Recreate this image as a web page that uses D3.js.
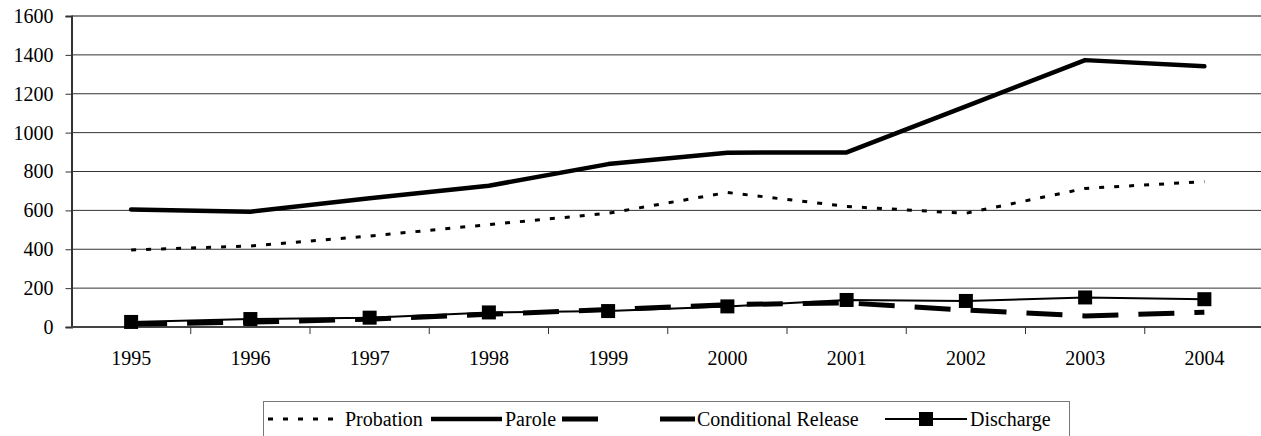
<!DOCTYPE html>
<html><head><meta charset="utf-8">
<script src="https://cdn.jsdelivr.net/npm/d3@7"></script>
<style>
html,body{margin:0;padding:0;background:#fff;}
</style></head>
<body><svg id="c" width="1261" height="436"></svg>
<script>
const years = ["1995","1996","1997","1998","1999","2000","2001","2002","2003","2004"];
const probation = [396, 417, 468, 527, 585, 692, 620, 585, 713, 748];
const parole = [605, 593, 662, 727, 838, 897, 898, 1135, 1373, 1341];
const conditionalRelease = [15, 25, 40, 65, 90, 115, 124, 87, 57, 76];
const discharge = [26, 41, 48, 75, 82, 106, 139, 134, 152, 143];
const yTicks = [0, 200, 400, 600, 800, 1000, 1200, 1400, 1600];
const seriesNames = ["Probation", "Parole", "Conditional Release", "Discharge"];

const FONT = "Liberation Serif";
const FS = 20;
const svg = d3.select("#c");
const L = 71.5, R = 1264, T = 16, B = 327;
const x = d3.scaleBand().domain(years).range([L, R]).padding(0);
const y = d3.scaleLinear().domain([0, 1600]).range([B, T]);
const cx = d => x(d) + x.bandwidth() / 2;

// gridlines
svg.append("g").selectAll("line").data(yTicks.filter(t => t > 0 && t < 1600)).join("line")
  .attr("x1", L).attr("x2", 1261).attr("y1", d => y(d)).attr("y2", d => y(d))
  .attr("stroke", "#333").attr("stroke-width", 1);
// top frame line
svg.append("line").attr("x1", L).attr("x2", 1261).attr("y1", y(1600)).attr("y2", y(1600))
  .attr("stroke", "#888").attr("stroke-width", 2);

// y axis
const yAxis = d3.axisLeft(y).tickValues(yTicks).tickSize(6).tickPadding(12).tickFormat(d3.format("d"));
const gy = svg.append("g").attr("transform", `translate(${L},0)`).call(yAxis);
gy.select(".domain").attr("stroke", "#333").attr("stroke-width", 2);
gy.selectAll(".tick line").attr("stroke", "#333");
gy.selectAll("text").attr("font-size", FS).attr("fill", "#000").style("font-family", FONT);

// x axis
const gx = svg.append("g").attr("transform", `translate(0,${B})`);
gx.append("line").attr("x1", L).attr("x2", 1261).attr("y1", 0).attr("y2", 0).attr("stroke", "#444").attr("stroke-width", 2);
gx.selectAll("line.tk").data(years.slice(1)).join("line").attr("class", "tk")
  .attr("x1", d => x(d)).attr("x2", d => x(d)).attr("y1", 0).attr("y2", 7).attr("stroke", "#333");
gx.selectAll("text").data(years).join("text")
  .attr("x", d => cx(d)).attr("y", 38).attr("text-anchor", "middle")
  .attr("font-size", FS).style("font-family", FONT).attr("fill", "#000").text(d => d);

const line = d3.line().x((d, i) => cx(years[i])).y(d => y(d));

svg.append("path").datum(probation).attr("d", line).attr("fill", "none")
  .attr("stroke", "#000").attr("stroke-width", 3).attr("stroke-dasharray", "5,10");
svg.append("path").datum(parole).attr("d", line).attr("fill", "none")
  .attr("stroke", "#000").attr("stroke-width", 4.5).attr("stroke-linecap", "round").attr("stroke-linejoin", "round");
svg.append("path").datum(conditionalRelease).attr("d", line).attr("fill", "none")
  .attr("stroke", "#000").attr("stroke-width", 5).attr("stroke-dasharray", "36,20");
svg.append("path").datum(discharge).attr("d", line).attr("fill", "none")
  .attr("stroke", "#000").attr("stroke-width", 2);
svg.append("g").selectAll("rect").data(discharge).join("rect")
  .attr("x", (d, i) => cx(years[i]) - 7).attr("y", d => y(d) - 7)
  .attr("width", 14).attr("height", 14).attr("fill", "#000");

// legend
const lg = svg.append("g");
lg.append("rect").attr("x", 263.5).attr("y", 401.5).attr("width", 806).attr("height", 40)
  .attr("fill", "#fff").attr("stroke", "#777").attr("stroke-width", 1);
const items = [
  {name: seriesNames[0], x0: 268, x1: 343, tx: 345, w: 3, dash: "5,10"},
  {name: seriesNames[1], x0: 431, x1: 502, tx: 505, w: 4.5, dash: null},
  {name: seriesNames[2], x0: 562, x1: 695, tx: 697, w: 5, dash: "36,62"},
  {name: seriesNames[3], x0: 885, x1: 967, tx: 970, w: 2, dash: null, marker: true}
];
const ly = 419;
items.forEach(it => {
  lg.append("line").attr("x1", it.x0).attr("x2", it.x1).attr("y1", ly).attr("y2", ly)
    .attr("stroke", "#000").attr("stroke-width", it.w).attr("stroke-dasharray", it.dash);
  if (it.marker) lg.append("rect").attr("x", (it.x0 + it.x1) / 2 - 7).attr("y", ly - 7).attr("width", 14).attr("height", 14).attr("fill", "#000");
  lg.append("text").attr("x", it.tx).attr("y", ly + 7).attr("font-size", FS).style("font-family", FONT).attr("fill", "#000").text(it.name);
});
</script></body></html>
